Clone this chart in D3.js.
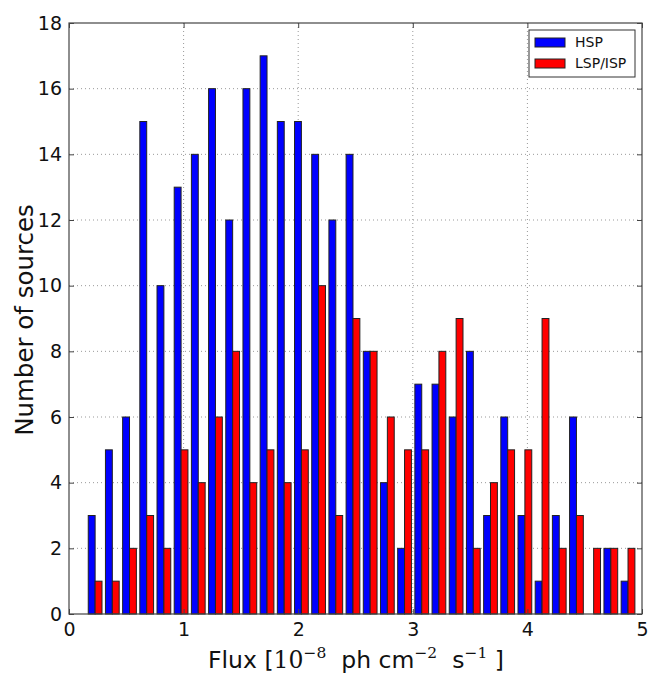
<!DOCTYPE html>
<html><head><meta charset="utf-8">
<script src="https://cdn.jsdelivr.net/npm/d3@7"></script>
<style>
html,body{margin:0;padding:0;background:#fff;}
svg{display:block;font-family:"DejaVu Sans",sans-serif;}
</style></head>
<body><svg id="chart" width="648" height="673"></svg>
<script>
// Lower edges of the histogram bins (flux, 1e-8 ph cm^-2 s^-1)
const binStarts = [0.153,0.303,0.453,0.603,0.753,0.903,1.053,1.203,1.353,1.503,1.653,1.803,1.953,2.103,2.253,2.403,
                   2.553,2.703,2.853,3.003,3.153,3.303,3.453,3.603,3.753,3.903,4.053,4.203,4.353,4.503,4.653,4.803];
const binWidth = 0.15;
const hsp = [3,5,6,15,10,13,14,16,12,16,17,15,15,14,12,14,8,4,2,7,7,6,8,3,6,3,1,3,6,0,2,1];
const lsp = [1,1,2,3,2,5,4,6,8,4,5,4,5,10,3,9,8,6,5,5,8,9,2,4,5,5,9,2,3,2,2,2];
const seriesNames = ["HSP","LSP/ISP"];
const seriesColors = ["#0000ff","#ff0000"];
const xTicks = [0,1,2,3,4,5];
const yTicks = [0,2,4,6,8,10,12,14,16,18];

const svg = d3.select("#chart");
const L = 69, R = 642, T = 23, B = 614;
const x = d3.scaleLinear().domain([0,5]).range([L,R]);
const y = d3.scaleLinear().domain([0,18]).range([B,T]);

// grid
const g = svg.append("g");
g.selectAll("line.gx").data(xTicks.slice(1,-1)).enter().append("line")
  .attr("x1",d=>x(d)).attr("x2",d=>x(d)).attr("y1",T).attr("y2",B)
  .attr("stroke","#999").attr("stroke-width",1).attr("stroke-dasharray","1,3");
g.selectAll("line.gy").data(yTicks.slice(1,-1)).enter().append("line")
  .attr("y1",d=>y(d)).attr("y2",d=>y(d)).attr("x1",L).attr("x2",R)
  .attr("stroke","#999").attr("stroke-width",1).attr("stroke-dasharray","1,3");

// bars
const series = [hsp, lsp];
series.forEach((vals, si) => {
  svg.append("g").selectAll("rect").data(vals.map((v,i)=>({v, x0: binStarts[i]})))
    .enter().filter(d=>d.v>0).append("rect")
    .attr("x", d => x(d.x0 + binWidth*0.1 + si*binWidth*0.4))
    .attr("width", d => x(d.x0 + binWidth*0.1 + (si+1)*binWidth*0.4) - x(d.x0 + binWidth*0.1 + si*binWidth*0.4))
    .attr("y", d => y(d.v))
    .attr("height", d => y(0) - y(d.v))
    .attr("fill", seriesColors[si])
    .attr("stroke", "#222").attr("stroke-width", 1);
});

// frame
svg.append("rect").attr("x",L).attr("y",T).attr("width",R-L).attr("height",B-T)
  .attr("fill","none").attr("stroke","#444").attr("stroke-width",1.2);

// axes with inward ticks
const xAxis = d3.axisBottom(x).tickValues(xTicks).tickFormat(d3.format("d")).tickSize(-5).tickPadding(9);
const ax = svg.append("g").attr("transform",`translate(0,${B})`).call(xAxis);
ax.select(".domain").remove();
ax.selectAll("line").attr("stroke","#444");
ax.selectAll("text").attr("font-size",19).attr("fill","#111").attr("font-family","DejaVu Sans");

const xAxisTop = d3.axisTop(x).tickValues(xTicks).tickFormat("").tickSize(-5);
const axt = svg.append("g").attr("transform",`translate(0,${T})`).call(xAxisTop);
axt.select(".domain").remove(); axt.selectAll("line").attr("stroke","#444");

const yAxis = d3.axisLeft(y).tickValues(yTicks).tickFormat(d3.format("d")).tickSize(-5).tickPadding(7);
const ay = svg.append("g").attr("transform",`translate(${L},0)`).call(yAxis);
ay.select(".domain").remove();
ay.selectAll("line").attr("stroke","#444");
ay.selectAll("text").attr("font-size",19).attr("fill","#111").attr("font-family","DejaVu Sans");

const yAxisR = d3.axisRight(y).tickValues(yTicks).tickFormat("").tickSize(-5);
const ayr = svg.append("g").attr("transform",`translate(${R},0)`).call(yAxisR);
ayr.select(".domain").remove(); ayr.selectAll("line").attr("stroke","#444");

// axis labels
svg.append("text").attr("transform","translate(33,320) rotate(-90)")
  .attr("text-anchor","middle").attr("font-size",24.5).attr("fill","#111")
  .text("Number of sources");

const xl = svg.append("text").attr("x",356).attr("y",668).attr("text-anchor","middle")
  .attr("font-size",23.5).attr("fill","#111");
xl.append("tspan").text("Flux [");
xl.append("tspan").attr("font-family","DejaVu Serif").text("10");
xl.append("tspan").attr("font-family","DejaVu Serif").attr("font-size",15.5).attr("dy",-10).text("−8");
xl.append("tspan").attr("dy",10).text("\u00a0\u00a0ph cm");
xl.append("tspan").attr("font-family","DejaVu Serif").attr("font-size",15.5).attr("dy",-10).text("−2");
xl.append("tspan").attr("dy",10).text("\u00a0\u00a0s");
xl.append("tspan").attr("font-family","DejaVu Serif").attr("font-size",15.5).attr("dy",-10).text("−1");
xl.append("tspan").attr("dy",10).text("\u00a0]");

// legend
const lg = svg.append("g");
lg.append("rect").attr("x",529).attr("y",30).attr("width",106).attr("height",47)
  .attr("fill","#fff").attr("stroke","#333").attr("stroke-width",1);
seriesNames.forEach((n,i)=>{
  lg.append("rect").attr("x",535).attr("y",38+i*21).attr("width",30).attr("height",9)
    .attr("fill",seriesColors[i]).attr("stroke","#222").attr("stroke-width",1);
  lg.append("text").attr("x",575).attr("y",47+i*21).attr("font-size",14).attr("fill","#111").text(n);
});
</script>
</body></html>
